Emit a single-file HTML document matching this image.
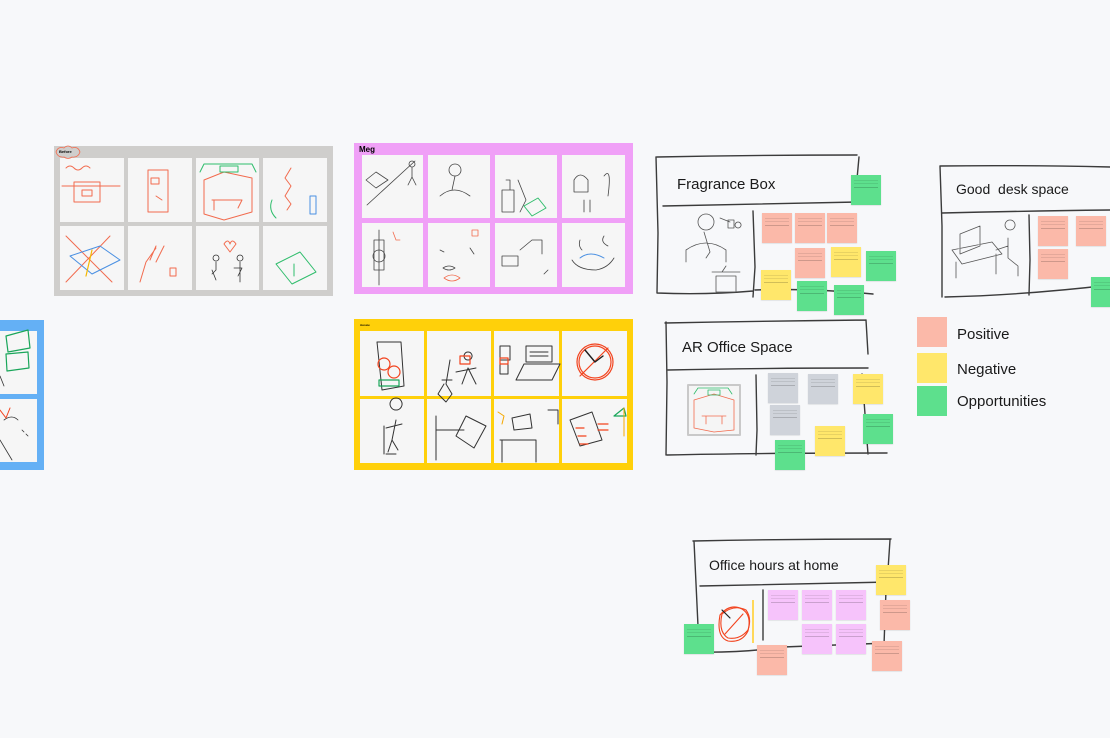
<!DOCTYPE html>
<html><head><meta charset="utf-8"><style>
html,body{margin:0;padding:0}
body{width:1110px;height:738px;background:#f7f8fa;position:relative;overflow:hidden;font-family:"Liberation Sans",sans-serif}
.a{position:absolute}
.cell{position:absolute;background:#f6f6f6}
.n{position:absolute;width:30px;height:30px;box-shadow:0 0.5px 1px rgba(0,0,0,.15);background-image:repeating-linear-gradient(to bottom,transparent 0,transparent 3px,rgba(0,0,0,.18) 3px,rgba(0,0,0,.18) 3.6px);background-size:24px 14px;background-position:3px 2px;background-repeat:no-repeat}
.r{background-color:#fbb9a9}.y{background-color:#ffe76b}.g{background-color:#5de08d}.s{background-color:#cfd3da}.p{background-color:#f6c3fb}
.t{position:absolute;font-size:15px;color:#1a1a1a;white-space:nowrap}
</style></head><body>

<!-- blue board -->
<div class="a" style="left:0;top:320px;width:44px;height:150px;background:#64b0f5"></div>
<div class="cell" style="left:0;top:331px;width:37px;height:63px"></div>
<div class="cell" style="left:0;top:399px;width:37px;height:63px"></div>

<!-- gray board -->
<div class="a" style="left:54px;top:146px;width:279px;height:150px;background:#cfcecc"></div>
<div class="cell" style="left:60px;top:158px;width:64px;height:64px"></div>
<div class="cell" style="left:128px;top:158px;width:64px;height:64px"></div>
<div class="cell" style="left:196px;top:158px;width:63px;height:64px"></div>
<div class="cell" style="left:263px;top:158px;width:64px;height:64px"></div>
<div class="cell" style="left:60px;top:226px;width:64px;height:64px"></div>
<div class="cell" style="left:128px;top:226px;width:64px;height:64px"></div>
<div class="cell" style="left:196px;top:226px;width:63px;height:64px"></div>
<div class="cell" style="left:263px;top:226px;width:64px;height:64px"></div>
<div class="a" style="left:59px;top:149px;font-size:4px;font-weight:bold">Before</div>

<!-- Meg board -->
<div class="a" style="left:354px;top:143px;width:279px;height:151px;background:#f0a0f7"></div>
<div class="cell" style="left:362px;top:155px;width:61px;height:63px"></div>
<div class="cell" style="left:428px;top:155px;width:62px;height:63px"></div>
<div class="cell" style="left:495px;top:155px;width:62px;height:63px"></div>
<div class="cell" style="left:562px;top:155px;width:63px;height:63px"></div>
<div class="cell" style="left:362px;top:223px;width:61px;height:64px"></div>
<div class="cell" style="left:428px;top:223px;width:62px;height:64px"></div>
<div class="cell" style="left:495px;top:223px;width:62px;height:64px"></div>
<div class="cell" style="left:562px;top:223px;width:63px;height:64px"></div>
<div class="a" style="left:359px;top:145px;font-size:8px;font-weight:bold">Meg</div>

<!-- yellow board -->
<div class="a" style="left:354px;top:319px;width:279px;height:151px;background:#ffd00a"></div>
<div class="cell" style="left:360px;top:331px;width:64px;height:65px"></div>
<div class="cell" style="left:427px;top:331px;width:64px;height:65px"></div>
<div class="cell" style="left:494px;top:331px;width:65px;height:65px"></div>
<div class="cell" style="left:562px;top:331px;width:65px;height:65px"></div>
<div class="cell" style="left:360px;top:399px;width:64px;height:64px"></div>
<div class="cell" style="left:427px;top:399px;width:64px;height:64px"></div>
<div class="cell" style="left:494px;top:399px;width:65px;height:64px"></div>
<div class="cell" style="left:562px;top:399px;width:65px;height:64px"></div>
<div class="a" style="left:360px;top:323px;font-size:3px;font-weight:bold">Aussie</div>

<svg class="a" style="left:0;top:0" width="1110" height="738" fill="none" stroke-linecap="round" stroke-linejoin="round">
 <!-- gray board sketches -->
 <g stroke="#f26b4e" stroke-width="1">
  <path d="M66 168q4-4 8 0t8 0 8 0"/><path d="M62 186h58M74 182h26v20h-26z"/><path d="M82 190h10v6h-10z"/>
  <path d="M148 170h20v42h-20z"/><path d="M151 178h8v6h-8z"/><path d="M156 196l6 4"/>
  <path d="M204 180l20-8 28 6v34l-28 8-20-6z"/><path d="M212 200h30l-4 8M214 200v10"/>
  <path d="M291 168l-6 10 6 8-6 10 6 8-4 6"/>
  <path d="M66 236l46 46M110 236l-44 46"/>
  <path d="M140 282l6-20 10-14M150 260l6-14M156 262l8-16"/><path d="M170 268v8h6v-8z"/>
  <path d="M224 244q4-6 6 0 2-6 6 0l-6 8z"/>
 </g>
 <g stroke="#2fbd6c" stroke-width="1">
  <path d="M200 172l4-8h48l4 8"/><path d="M220 166h18v6h-18z"/><path d="M272 200q-4 10 4 18"/>
  <path d="M276 264l24-12 16 20-24 12z"/><path d="M294 264v12"/>
 </g>
 <g stroke="#4a90e2" stroke-width="1"><path d="M70 256l30-10 20 14-28 14z"/><path d="M310 196v18h6v-18z"/></g>
 <g stroke="#f5b800" stroke-width="1.2"><path d="M92 250l-6 26"/></g>
 <g stroke="#333" stroke-width=".8"><path d="M212 270l4 10M216 262v8l-4 4M240 262v20M234 268h8l-4 8"/><circle cx="216" cy="258" r="3"/><circle cx="240" cy="258" r="3"/></g>

 <!-- Meg sketches -->
 <g stroke="#444" stroke-width=".8">
  <path d="M367 205l48-44M366 180l10-8 12 8-12 8z"/><circle cx="412" cy="164" r="3"/><path d="M412 167v10l-4 8M412 177l4 8"/>
  <circle cx="455" cy="170" r="6"/><path d="M440 196q14-12 30 0M455 176l-3 14"/>
  <path d="M502 190h12v22h-12zM506 180h4v10"/><path d="M518 180l8 20-6 12"/>
  <path d="M574 180q6-10 14 0v12h-14zM584 200v12M590 200v12M604 176q8-10 4 20"/>
  <path d="M379 230v55M374 240h10v30h-10z"/><circle cx="379" cy="256" r="6"/>
  <path d="M443 268q6-4 12 0q-6 4-12 0M440 250l4 2M470 248l4 6"/>
  <path d="M502 256h16v10h-16zM520 250l12-10h10v14M548 270l-4 4"/>
  <path d="M572 260q6 10 24 10q12-2 18-12M580 240q-2 6 2 10M604 236q-4 6 4 10"/>
 </g>
 <g stroke="#f26b4e" stroke-width=".8"><path d="M444 278q8-6 16 0q-8 6-16 0"/><path d="M472 230h6v6h-6z"/><path d="M393 232l3 8h4"/></g>
 <g stroke="#2fbd6c" stroke-width="1"><path d="M524 206l14-8 8 10-14 8z"/></g>
 <g stroke="#4a90e2" stroke-width="1"><path d="M580 258q10-8 24 0"/></g>

 <!-- yellow board sketches -->
 <g stroke="#333" stroke-width="1">
  <path d="M377 342h24l3 44-22 4z"/><path d="M442 380h10M450 360l-4 24 6 10-6 8-8-8 6-10M468 360a4 4 0 1 1 0.1 0M468 368l-6 16M468 368l8 16M456 372l20-4"/>
  <path d="M500 346h10v14h-10zM508 362v12h-8v-12M516 380h36l8-16h-36z"/><path d="M526 346h26v16h-26z"/><path d="M530 352h18M530 356h18"/>
  <path d="M396 410a6 6 0 1 1 0.1 0M396 420l-4 20M392 440l-4 12M392 440l6 10M386 428l16-4M386 454h10M384 426v28"/>
  <path d="M436 416v44M436 430h28M466 416l20 10-12 22-18-12z"/>
  <path d="M512 418l18-4 2 14-18 2zM500 440h36v22M502 440v22M548 410h10v14"/>
  <path d="M570 420l22-8 10 28-22 6z"/>
 </g>
 <g stroke="#f2431e" stroke-width="1.2">
  <circle cx="384" cy="364" r="6"/><circle cx="394" cy="372" r="6"/>
  <circle cx="595" cy="362" r="18"/><circle cx="595" cy="362" r="16"/><path d="M580 376l28-28"/>
  <path d="M460 356h10v8h-10z"/><path d="M500 358h8v6h-8z"/><path d="M576 428h8M578 436h8M580 444h8M598 424h10M598 430h10"/>
 </g>
 <g stroke="#1e1e1e" stroke-width="1.4"><path d="M585 350l10 12M595 362l8-6"/></g>
 <g stroke="#1aa65a" stroke-width="1.2"><path d="M379 380h20v6h-20z"/><path d="M614 416l10-8 2 8z"/></g>
 <g stroke="#f5a800" stroke-width="1"><path d="M498 412l6 4-2 8"/><path d="M624 408v28"/></g>

 <!-- blue board sketches -->
 <g stroke="#1aa65a" stroke-width="1.2"><path d="M6 336l22-6 2 18-22 4z"/><path d="M6 354l22-2 1 16-22 3z"/></g>
 <g stroke="#333" stroke-width=".8"><path d="M0 376l4 10M4 420q8-6 14 0M0 440q6 10 12 20M22 430l2 2M26 434l2 2"/></g>
 <g stroke="#f2431e" stroke-width="1"><path d="M0 410l6 8 4-10"/></g>

 <!-- sticky cloud -->
 <path d="M56 152q2-6 8-4 4-4 8 0 6-2 8 4-2 6-8 5-4 3-8 0-6 1-8-5z" stroke="#f26b4e" stroke-width=".8"/>

 <!-- frames -->
 <g stroke="#3b3b3b" stroke-width="1.4">
  <!-- Fragrance Box -->
  <path d="M657 157q100-2 200 -2M656 157l2 76-1 60q50 2 96-2M663 206q90-2 195-4M859 157l-2 22M753 211l2 56-2 30M755 290q55-2 118 4"/>
  <!-- Good desk space -->
  <path d="M940 166q80-1 170 1M940 166l2 60 0 71M942 213q80-2 168-3M1029 215l1 45-1 35M945 297q80-2 165-12"/>
  <!-- AR Office Space -->
  <path d="M665 323q100-2 201-3M666 322l1 60-1 73M668 370q95-2 200-2M866 320l2 34M756 375l1 55-1 25M667 455q90-2 220-2M862 374l6 80"/>
  <!-- Office hours -->
  <path d="M693 541q100-2 198-2M694 541l4 85M700 586q95-2 190-4M890 540l-2 30M763 590v50M693 652q50 1 90-5l105-4M886 590l-2 55"/>
 </g>
 <!-- fragrance sketch -->
 <g stroke="#555" stroke-width=".8">
  <circle cx="706" cy="222" r="8"/><path d="M686 250q20-14 40 0M686 250v12M726 250v12M704 232l6 20-4 6M720 218l10 4M728 220h6v8h-6zM738 228a3 3 0 1 1 .1 0M716 276h20v16h-20zM712 272h28M726 266l-4 6"/>
  <!-- desk sketch -->
  <path d="M960 234l20-8v20l-20 8zM952 250l40-8 10 12-40 10zM956 262v16M996 254v20M1010 230a5 5 0 1 1 .1 0M1008 238v20l10 8v10M996 250l12-4"/>
  <!-- AR image frame -->
 </g>
 <rect x="688" y="385" width="52" height="50" fill="#f5f5f5" stroke="#c9c9c9" stroke-width="2"/>
 <g stroke="#f26b4e" stroke-width=".8"><path d="M694 400l20-6 20 6v30l-20 2-20-4zM702 416h24M706 416v8M722 416v8"/></g>
 <g stroke="#2fbd6c" stroke-width=".8"><path d="M694 394l4-6h30l4 6M708 390h12v5h-12z"/></g>
 <!-- clock office hours -->
 <g stroke="#f2431e" stroke-width="1.1"><path d="M720 615q10-12 22-6 10 6 6 22-6 12-20 10-12-4-8-26z"/><path d="M722 614q12-10 24-4 6 8 2 20-8 10-20 8-10-6-6-24z"/><path d="M725 634l18-20"/></g>
 <g stroke="#222" stroke-width="1.2"><path d="M722 610l8 8"/></g>
 <rect x="752" y="600" width="2" height="43" fill="#ffd85a" stroke="none"/>
</svg>

<div class="t" style="left:677px;top:176px">Fragrance Box</div>
<div class="t" style="left:956px;top:181px;font-size:14px">Good&nbsp; desk space</div>
<div class="t" style="left:682px;top:339px">AR Office Space</div>
<div class="t" style="left:709px;top:557px;font-size:14px">Office hours at home</div>

<!-- Fragrance notes -->
<div class="n g" style="left:851px;top:175px"></div>
<div class="n r" style="left:762px;top:213px"></div>
<div class="n r" style="left:795px;top:213px"></div>
<div class="n r" style="left:827px;top:213px"></div>
<div class="n r" style="left:795px;top:248px"></div>
<div class="n y" style="left:831px;top:247px"></div>
<div class="n g" style="left:866px;top:251px"></div>
<div class="n y" style="left:761px;top:270px"></div>
<div class="n g" style="left:797px;top:281px"></div>
<div class="n g" style="left:834px;top:285px"></div>

<!-- desk notes -->
<div class="n r" style="left:1038px;top:216px"></div>
<div class="n r" style="left:1076px;top:216px"></div>
<div class="n r" style="left:1038px;top:249px"></div>
<div class="n g" style="left:1091px;top:277px"></div>

<!-- legend -->
<div class="a r" style="left:917px;top:317px;width:30px;height:30px"></div>
<div class="a y" style="left:917px;top:353px;width:30px;height:30px"></div>
<div class="a g" style="left:917px;top:386px;width:30px;height:30px"></div>
<div class="t" style="left:957px;top:326px">Positive</div>
<div class="t" style="left:957px;top:361px">Negative</div>
<div class="t" style="left:957px;top:393px">Opportunities</div>

<!-- AR notes -->
<div class="n s" style="left:768px;top:373px"></div>
<div class="n s" style="left:808px;top:374px"></div>
<div class="n s" style="left:770px;top:405px"></div>
<div class="n y" style="left:853px;top:374px"></div>
<div class="n g" style="left:863px;top:414px"></div>
<div class="n y" style="left:815px;top:426px"></div>
<div class="n g" style="left:775px;top:440px"></div>

<!-- Office hours notes -->
<div class="n p" style="left:768px;top:590px"></div>
<div class="n p" style="left:802px;top:590px"></div>
<div class="n p" style="left:836px;top:590px"></div>
<div class="n p" style="left:802px;top:624px"></div>
<div class="n p" style="left:836px;top:624px"></div>
<div class="n y" style="left:876px;top:565px"></div>
<div class="n r" style="left:880px;top:600px"></div>
<div class="n r" style="left:872px;top:641px"></div>
<div class="n r" style="left:757px;top:645px"></div>
<div class="n g" style="left:684px;top:624px"></div>

</body></html>
